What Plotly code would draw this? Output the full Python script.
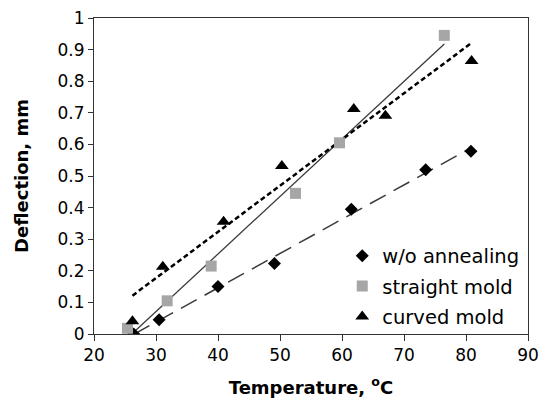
import numpy as np
import plotly.graph_objects as go

# Data
wo_x = [26.4, 30.5, 40.0, 49.1, 61.5, 73.5, 80.8]
wo_y = [0.0, 0.045, 0.15, 0.223, 0.395, 0.52, 0.578]

straight_x = [25.4, 31.8, 38.9, 52.5, 59.6, 76.5]
straight_y = [0.018, 0.105, 0.215, 0.445, 0.605, 0.945]

curved_x = [26.2, 31.1, 40.9, 50.3, 61.9, 67.0, 80.9]
curved_y = [0.04, 0.213, 0.355, 0.532, 0.712, 0.691, 0.864]

x_ticks = [20, 30, 40, 50, 60, 70, 80, 90]
y_ticks = [0, 0.1, 0.2, 0.3, 0.4, 0.5, 0.6, 0.7, 0.8, 0.9, 1]
y_ticktext = ["0", "0.1", "0.2", "0.3", "0.4", "0.5", "0.6", "0.7", "0.8", "0.9", "1"]

FONT = "DejaVu Sans"


def trend(xs, ys):
    a, b = np.polyfit(xs, ys, 1)
    x0, x1 = min(xs), max(xs)
    return [x0, x1], [a * x0 + b, a * x1 + b]


fig = go.Figure()

# Trend lines
tx, ty = trend(wo_x, wo_y)
fig.add_trace(go.Scatter(x=tx, y=ty, mode="lines", showlegend=False,
                         line=dict(color="#3a3a3a", width=1.5, dash="18px,9px")))
tx, ty = trend(straight_x, straight_y)
fig.add_trace(go.Scatter(x=tx, y=ty, mode="lines", showlegend=False,
                         line=dict(color="#3a3a3a", width=1.3)))
tx, ty = trend(curved_x, curved_y)
fig.add_trace(go.Scatter(x=tx, y=ty, mode="lines", showlegend=False,
                         line=dict(color="#000000", width=2.5, dash="5px,3px")))

# Markers
fig.add_trace(go.Scatter(x=wo_x, y=wo_y, mode="markers", name="w/o annealing",
                         legendgroup="a",
                         marker=dict(symbol="diamond", size=10, color="#000000")))
fig.add_trace(go.Scatter(x=straight_x, y=straight_y, mode="markers", name="straight mold",
                         legendgroup="b",
                         marker=dict(symbol="square", size=11, color="#a6a6a6")))
fig.add_trace(go.Scatter(x=curved_x, y=curved_y, mode="markers", name="curved mold",
                         legendgroup="c",
                         marker=dict(symbol="triangle-up", size=12, color="#000000")))

fig.update_layout(
    width=541, height=404,
    margin=dict(l=94, r=13, t=18, b=70),
    paper_bgcolor="white", plot_bgcolor="white",
    font=dict(family=FONT, size=17, color="#000000"),
    showlegend=True,
    legend=dict(x=0.572, y=-0.008, xanchor="left", yanchor="bottom",
                bgcolor="rgba(0,0,0,0)", borderwidth=0,
                font=dict(family=FONT, size=19.5, color="#000000"),
                tracegroupgap=2, itemwidth=30),
)

fig.update_xaxes(
    range=[20, 90], tickvals=x_ticks, showgrid=False, zeroline=False,
    ticks="outside", ticklen=6, tickcolor="#333333",
    showline=True, linecolor="#333333", linewidth=1, mirror=True,
    tickfont=dict(family=FONT, size=17), automargin=False,
    title=dict(text="<b>Temperature, <sup>o</sup>C</b>", font=dict(family=FONT, size=18),
               standoff=16),
)
fig.update_yaxes(
    range=[0, 1], tickvals=y_ticks, ticktext=y_ticktext, showgrid=False, zeroline=False,
    ticks="outside", ticklen=5, tickcolor="#333333",
    showline=True, linecolor="#333333", linewidth=1, mirror=True,
    tickfont=dict(family=FONT, size=17), automargin=False,
    title=dict(text="<b>Deflection, mm</b>", font=dict(family=FONT, size=18), standoff=24),
)

fig.write_html(
    "out.html",
    config={"displayModeBar": False},
    post_script="document.body.style.margin='0';document.body.style.padding='0';"
                "document.documentElement.style.margin='0';",
)
